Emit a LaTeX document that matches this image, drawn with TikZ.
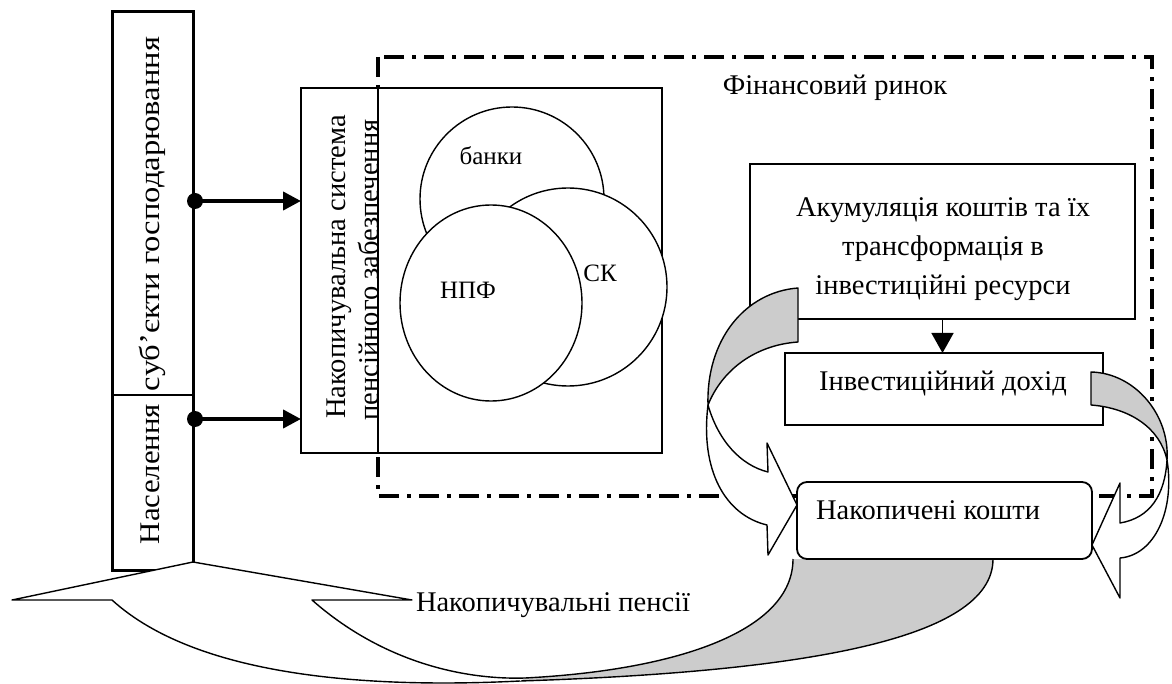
\documentclass[tikz,border=0pt]{standalone}
\usepackage{fontspec}
\setmainfont{Liberation Serif}
\usetikzlibrary{arrows.meta,shapes.geometric}
\definecolor{bandgray}{gray}{0.8}
\begin{document}
\begin{tikzpicture}[x=1pt,y=-1pt,
 txt/.style={font=\fontsize{28.5}{34}\selectfont, inner sep=0pt, outer sep=0pt, anchor=base},
 smalltxt/.style={txt, font=\fontsize{25}{30}\selectfont},
 rect/.style={draw, fill=white, anchor=north west, inner sep=0pt, outer sep=0pt, line width=1.8pt},
 market/.style={line width=4pt, dash pattern=on 20pt off 8pt on 4pt off 8pt},
 bandline/.style={line width=1.4pt, line join=round},
 fat/.style={line width=4pt, -{Triangle[length=18pt,width=18pt]}},
 circ/.style={draw, fill=white, line width=1.4pt, inner sep=0pt, outer sep=0pt}
]
\useasboundingbox (0,0) rectangle (1172,684);
% financial market frame
\draw[market] (378,57) rectangle (1152,496);
\node[txt] (fr) at (835,95) {Фінансовий ринок};

% left box
\node[rect, line width=3pt, minimum width=81pt, minimum height=558pt] (sub) at (112,12) {};
\draw[line width=2pt] (112,395) -- (193,395);
\node[txt, rotate=90] (subt) at (159,214) {\resizebox{354pt}{\height}{суб’єкти господарювання}};
\node[txt, rotate=90] (nast) at (159,474) {\resizebox{140pt}{\height}{Населення}};

% bottom band (gray part)
\fill[bandgray] (793,559) .. controls (793,630) and (680,670) .. (525,678) -- (520,681) .. controls (800,672) and (993,640) .. (993,559) -- cycle;
\draw[bandline] (793,559) .. controls (793,630) and (680,670) .. (525,678);
\draw[bandline] (520,681) .. controls (800,672) and (993,640) .. (993,559);
% bottom band (white part with head)
\fill[white] (193,562) -- (12,600) -- (112,600) .. controls (200,680) and (380,688) .. (520,681) -- (525,678) .. controls (460,680) and (380,660) .. (312,600) -- (412,600) -- cycle;
\draw[bandline] (525,678) .. controls (460,680) and (380,660) .. (312,600) -- (412,600) -- (193,562) -- (12,600) -- (112,600) .. controls (200,680) and (380,688) .. (520,681);
\node[txt, anchor=base west] (np) at (416,611) {Накопичувальні пенсії};

% pension system box
\node[rect, line width=1.5pt, minimum width=361pt, minimum height=365pt] (nss) at (301,88) {};
\draw[line width=1.3pt] (378,88) -- (378,453);
\node[txt, rotate=90] (nss1) at (345,267) {Накопичувальна система};
\node[txt, rotate=90] (nss2) at (378,270) {пенсійного забезпечення};
\node[circ, circle, minimum size=184pt] (bank) at (512,199) {};
\node[circ, circle, minimum size=198pt] (sk) at (568,287) {};
\node[circ, ellipse, minimum width=182pt, minimum height=196pt] (npf) at (491,303) {};
\node[smalltxt] (bankt) at (491,165) {банки};
\node[smalltxt] (npft) at (468,299) {НПФ};
\node[smalltxt] (skt) at (600,282) {СК};

% arrows from left box
\coordinate (d1) at (195,201);
\coordinate (d2) at (195,419);
\draw[fat] (d1) -- (nss.west |- d1);
\draw[fat] (d2) -- (nss.west |- d2);
\fill (d1) circle (8pt);
\fill (d2) circle (8pt);

% right boxes
\node[rect, minimum width=385pt, minimum height=155pt] (akum) at (750,164) {};
\node[txt] (ak1) at (943,217) {Акумуляція коштів та їх};
\node[txt] (ak2) at (943,256) {трансформація в};
\node[txt] (ak3) at (943,295) {інвестиційні ресурси};
\node[rect, minimum width=318pt, minimum height=72pt] (inv) at (785,353) {};
\node[txt] (invt) at (943,390) {Інвестиційний дохід};
\node[rect, rounded corners=10pt, minimum width=295pt, minimum height=77pt] (nak) at (797,482) {};
\node[txt] (nakt) at (928,519) {Накопичені кошти};
\draw[line width=1.5pt, -{Triangle[length=20pt,width=22pt]}] (akum.south) -- (akum.south |- inv.north);

% left curved arrow
\filldraw[fill=bandgray, bandline] (798,288) .. controls (745,292) and (706,340) .. (708,405) .. controls (722,370) and (755,345) .. (798,342) -- cycle;
\filldraw[fill=white, bandline] (708,405) .. controls (718,440) and (740,465) .. (768,472) -- (767,443) -- (797,505) -- (768,555) -- (767,525) .. controls (725,515) and (700,470) .. (708,405) -- cycle;

% right curved arrow
\filldraw[fill=bandgray, bandline] (1091,372) .. controls (1135,373) and (1170,415) .. (1167,460) .. controls (1160,428) and (1130,408) .. (1091,405) -- cycle;
\filldraw[fill=white, bandline] (1167,460) .. controls (1175,510) and (1155,555) .. (1120,558) -- (1120,598) -- (1092,545) -- (1120,483) -- (1120,523) .. controls (1150,518) and (1165,495) .. (1167,460) -- cycle;
\end{tikzpicture}
\end{document}
